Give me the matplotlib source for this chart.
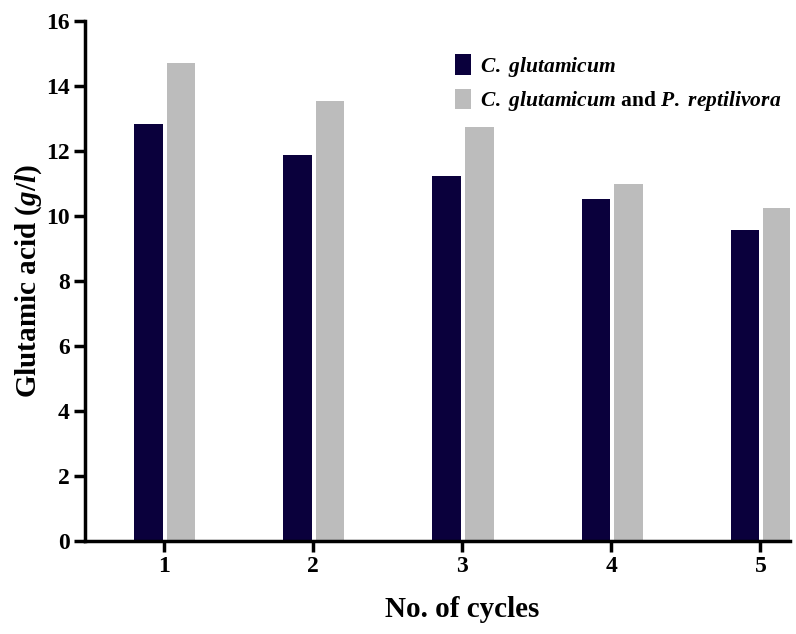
import matplotlib.pyplot as plt
import numpy as np

# values
cycles = ['1', '2', '3', '4', '5']
c_glut = [12.83, 11.88, 11.22, 10.54, 9.56]
c_glut_p_rept = [14.70, 13.54, 12.75, 10.98, 10.26]

plt.rcParams['font.family'] = 'Liberation Serif'
plt.rcParams['font.weight'] = 'bold'
plt.rcParams['mathtext.fontset'] = 'custom'
plt.rcParams['mathtext.rm'] = 'Liberation Serif:bold'
plt.rcParams['mathtext.it'] = 'Liberation Serif:bold:italic'

fig = plt.figure(figsize=(7.96, 6.34), dpi=100)
ax = fig.add_axes([0.1068, 0.1467, 0.886, 0.820])

x = np.arange(1, len(cycles) + 1)
w = 0.19
ax.bar(x - 0.105, c_glut, width=w, color='#0a003c', label=r'$\mathit{C.\ glutamicum}$')
ax.bar(x + 0.115, c_glut_p_rept, width=w, color='#bcbcbc',
       label=r'$\mathit{C.\ glutamicum}$ and $\mathit{P.\ reptilivora}$')

ax.set_xlim(0.47, 5.2)
ax.set_ylim(0, 16)
ax.set_xticks(x)
ax.set_xticklabels(cycles)
ax.set_yticks(range(0, 17, 2))

for side in ['top', 'right']:
    ax.spines[side].set_visible(False)
for side in ['left', 'bottom']:
    ax.spines[side].set_linewidth(2.5)
ax.tick_params(direction='out', length=8, width=2.5, labelsize=17, pad=3)

ax.set_xlabel('No. of cycles', fontsize=21, fontweight='bold')
# centre the x label under the middle tick, as in the reference
ax.xaxis.set_label_coords((3 - 0.47) / (5.2 - 0.47), -0.106)
ax.set_ylabel(r'Glutamic acid ($\mathit{g/l}$)', fontsize=21, fontweight='bold', labelpad=1.5)

ax.legend(loc='upper left', bbox_to_anchor=(0.561, 0.928), bbox_transform=fig.transFigure,
          frameon=False, fontsize=15.5, handlelength=0.75, handleheight=1.1,
          handletextpad=0.4, labelspacing=0.45, borderaxespad=0)

fig.savefig('out.png', dpi=100)
